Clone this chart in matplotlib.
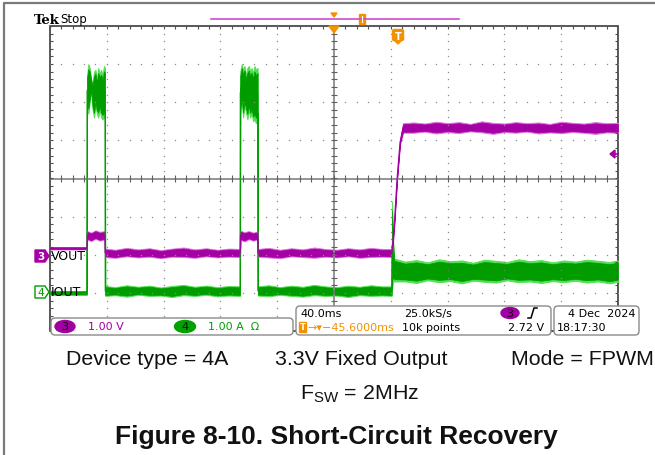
import matplotlib
matplotlib.use('Agg')
import matplotlib.pyplot as plt
from matplotlib.patches import FancyBboxPatch, Polygon, Ellipse, Rectangle
import numpy as np

W, H = 655, 456
MS_PER_DIV = 40.0
V_PER_DIV = 1.0
A_PER_DIV = 1.0
CH3_POS = -2.0   # divisions
CH4_POS = -3.0

# ---- data ----
# VOUT (ch3), volts: time (ms), lower / upper edge of the noisy trace
vout_t = [0, 26.0,
          26.2, 29, 32, 35, 38.6,
          38.8, 46, 54, 62, 70, 78, 86, 94, 102, 110, 118, 126, 133.9,
          134.1, 137, 140, 143, 146.2,
          146.4, 154, 162, 170, 178, 186, 194, 202, 210, 218, 226, 234, 240.8,
          242.6, 244.4, 246.5, 248.6,
          256, 264, 272, 280, 288, 296, 304, 312, 320, 328, 336, 344, 352, 360,
          368, 376, 384, 392, 400]
vout_lo = [0.14, 0.14,
           0.40, 0.36, 0.42, 0.37, 0.40,
           -0.06, -0.08, -0.04, -0.07, -0.05, -0.09, -0.05, -0.06, -0.08, -0.04, -0.07, -0.05, -0.06,
           0.39, 0.35, 0.41, 0.37, 0.40,
           -0.05, -0.07, -0.09, -0.04, -0.06, -0.08, -0.05, -0.07, -0.04, -0.08, -0.06, -0.05, -0.06,
           0.85, 1.95, 2.90, 3.20,
           3.20, 3.23, 3.18, 3.22, 3.19, 3.24, 3.21, 3.17, 3.22, 3.20, 3.23, 3.18, 3.21, 3.19,
           3.22, 3.20, 3.17, 3.21, 3.20]
vout_hi = [0.20, 0.20,
           0.62, 0.58, 0.64, 0.60, 0.62,
           0.16, 0.13, 0.18, 0.14, 0.17, 0.12, 0.16, 0.19, 0.14, 0.17, 0.13, 0.16, 0.15,
           0.63, 0.59, 0.62, 0.58, 0.61,
           0.15, 0.18, 0.13, 0.17, 0.14, 0.19, 0.15, 0.13, 0.17, 0.14, 0.18, 0.15, 0.15,
           0.95, 2.05, 3.00, 3.45,
           3.47, 3.44, 3.49, 3.45, 3.48, 3.43, 3.50, 3.46, 3.44, 3.48, 3.45, 3.47, 3.43, 3.49,
           3.46, 3.44, 3.48, 3.45, 3.46]

# IOUT (ch4), amps
iout_t = [0, 25.9,
          26.1, 27, 28, 29, 30, 31, 32, 33, 34, 35, 36, 37, 38, 38.7,
          38.9, 46, 54, 62, 70, 78, 86, 94, 102, 110, 118, 126, 133.8,
          134.0, 135, 136, 137, 138, 139, 140, 141, 142, 143, 144, 145, 146.2,
          146.4, 154, 162, 170, 178, 186, 194, 202, 210, 218, 226, 234, 240.6,
          240.9, 241.6, 242.5,
          250, 258, 266, 274, 282, 290, 298, 306, 314, 322, 330, 338, 346, 354,
          362, 370, 378, 386, 394, 400]
iout_lo = [-0.05, -0.05,
           4.90, 4.70, 5.00, 5.30, 4.80, 4.60, 4.90, 4.70, 4.60, 4.80, 4.60, 4.55, 4.60, 4.65,
           -0.08, -0.06, -0.10, -0.05, -0.08, -0.07, -0.11, -0.06, -0.08, -0.05, -0.09, -0.07, -0.08,
           4.70, 5.00, 4.60, 4.90, 4.75, 4.55, 4.80, 4.60, 4.70, 4.50, 4.55, 4.45, 4.60,
           -0.07, -0.09, -0.05, -0.08, -0.10, -0.06, -0.08, -0.07, -0.11, -0.06, -0.08, -0.07, -0.08,
           0.10, 0.30, 0.30,
           0.30, 0.26, 0.33, 0.28, 0.31, 0.25, 0.32, 0.29, 0.27, 0.33, 0.28, 0.30, 0.26, 0.31,
           0.28, 0.32, 0.27, 0.30, 0.25, 0.29]
iout_hi = [0.05, 0.05,
           5.70, 6.00, 5.90, 5.60, 5.50, 5.80, 5.85, 5.60, 5.90, 5.75, 5.85, 5.70, 5.95, 5.90,
           0.18, 0.15, 0.20, 0.16, 0.19, 0.14, 0.18, 0.21, 0.16, 0.19, 0.15, 0.18, 0.17,
           5.80, 6.00, 5.85, 5.95, 5.70, 5.90, 5.95, 5.80, 5.90, 5.75, 5.95, 5.85, 5.90,
           0.17, 0.20, 0.15, 0.19, 0.16, 0.21, 0.17, 0.15, 0.19, 0.16, 0.20, 0.17, 0.17,
           2.40, 1.40, 0.90,
           0.82, 0.86, 0.80, 0.88, 0.83, 0.85, 0.79, 0.87, 0.84, 0.81, 0.88, 0.83, 0.86, 0.80,
           0.85, 0.82, 0.87, 0.84, 0.81, 0.85]

V_DARK, V_LIGHT = '#a400a4', '#dc72dc'
I_DARK, I_LIGHT = '#009c00', '#52e052'
ORANGE = '#f39200'
GRID = '#8c8c8c'

fig = plt.figure(figsize=(W / 100, H / 100), dpi=100)

# graticule
GX0, GX1, GY0, GY1 = 50, 618, 27, 332
ax = fig.add_axes([GX0 / W, 1 - GY1 / H, (GX1 - GX0) / W, (GY1 - GY0) / H])
ax.set_xlim(0, 10)
ax.set_ylim(-4, 4)
ax.axis('off')

xs = np.arange(0, 10.001, 0.2)
ys = np.arange(-4, 4.001, 0.2)
for gx in range(1, 10):
    if gx != 5:
        ax.plot([gx] * len(ys), ys, ls='none', marker='s', ms=0.9, mew=0, color=GRID)
for gy in range(-3, 4):
    if gy != 0:
        ax.plot(xs, [gy] * len(xs), ls='none', marker='s', ms=0.9, mew=0, color=GRID)
ax.axvline(5, color=GRID, lw=1.3)
ax.axhline(0, color=GRID, lw=1.3)
ax.vlines(xs, -0.08, 0.08, color='#606060', lw=0.8)
ax.hlines(ys, 4.95, 5.05, color='#606060', lw=0.8)
ax.vlines(xs, 3.92, 4, color='#505050', lw=0.8)
ax.vlines(xs, -4, -3.92, color='#505050', lw=0.8)
ax.hlines(ys, 0, 0.05, color='#505050', lw=0.8)
ax.hlines(ys, 9.95, 10, color='#505050', lw=0.8)
ax.add_patch(Rectangle((0, -4), 10, 8, fill=False, ec='#3c3c3c', lw=1.2, clip_on=False))


def trace(t, lo, hi, pos, scale, dark, light, core=0.4):
    x = np.asarray(t) / MS_PER_DIV
    lo = np.asarray(lo) / scale + pos
    hi = np.asarray(hi) / scale + pos
    mid = (lo + hi) / 2
    ax.fill_between(x, lo, hi, color=light, lw=0.7, ec=light)
    ax.fill_between(x, mid - core * (hi - lo), mid + core * (hi - lo), color=dark, lw=0.5, ec=dark)
    ax.plot(x, mid, color=dark, lw=0.8)


trace(iout_t, iout_lo, iout_hi, CH4_POS, A_PER_DIV, I_DARK, I_LIGHT)
trace(vout_t, vout_lo, vout_hi, CH3_POS, V_PER_DIV, V_DARK, V_LIGHT)

# overlay in pixel coordinates
ov = fig.add_axes([0, 0, 1, 1], zorder=5)
ov.set_xlim(0, W)
ov.set_ylim(H, 0)
ov.axis('off')
ov.patch.set_alpha(0)

# page frame
ov.plot([4, 4, W], [H, 4, 4], color='#7a7a7a', lw=1.6)

mono = dict(family='DejaVu Sans', fontsize=8, va='center')

# top status line
ov.text(34, 20, 'Tek', family='DejaVu Serif', fontweight='bold', fontsize=9.5, va='center')
ov.text(60, 20, 'Stop', family='DejaVu Sans', fontsize=8.5, va='center')
ov.plot([211, 459], [20, 20], color='#d04cd0', lw=1.2)
ov.add_patch(Polygon([(331, 14), (337, 14), (334, 18)], color=ORANGE))
ov.add_patch(Rectangle((359, 15), 6, 10, color=ORANGE))
ov.plot([362, 362], [17, 23], color='white', lw=0.8)
ov.add_patch(Polygon([(329, 27), (339, 27), (334, 34)], color=ORANGE))
ov.add_patch(FancyBboxPatch((394, 32), 8, 8, boxstyle='round,pad=1.5', color=ORANGE))
ov.add_patch(Polygon([(394, 41), (402, 41), (398, 45)], color=ORANGE))
ov.text(398, 36.5, 'T', color='white', fontsize=7, fontweight='bold', ha='center', va='center')

# trigger level arrow
ov.add_patch(Polygon([(610, 155), (615, 151), (615, 159)], color=V_DARK))
ov.plot([614, 618], [155, 155], color=V_DARK, lw=1.2)

# channel tags
ov.add_patch(Polygon([(35, 251), (45, 251), (49, 257), (45, 263), (35, 263)], fc=V_DARK, ec=V_DARK, lw=1))
ov.text(40.5, 257.5, '3', color='white', fontsize=7.5, fontweight='bold', ha='center', va='center')
ov.text(51, 257, 'VOUT', color='black', fontsize=9, va='center')
ov.add_patch(Polygon([(35, 287), (45, 287), (49, 293), (45, 299), (35, 299)], fc='white', ec=I_DARK, lw=1))
ov.text(40.5, 293.5, '4', color=I_DARK, fontsize=7.5, ha='center', va='center')
ov.text(51, 293, 'IOUT', color='black', fontsize=9, va='center')


def box(x0, y0, x1, y1, r=4):
    ov.add_patch(FancyBboxPatch((x0 + r, y0 + r), x1 - x0 - 2 * r, y1 - y0 - 2 * r,
                                boxstyle=f'round,pad={r}', fc='white', ec='#8a8a8a', lw=1.0))


box(51, 319, 293, 336)
box(296, 307, 551, 336)
box(554, 307, 639, 336)

# channel scale box
ov.add_patch(Ellipse((65, 327.5), 20, 12, color='#a000a0'))
ov.text(65, 327.5, '3', color='#1a001a', fontsize=8, ha='center', va='center')
ov.text(88, 327.5, '1.00 V', color='#a000a0', **mono)
ov.add_patch(Ellipse((185, 327.5), 21, 12, color='#00a000'))
ov.text(185, 327.5, '4', color='#001a00', fontsize=8, ha='center', va='center')
ov.text(208, 327.5, '1.00 A  Ω', color='#00a000', **mono)

# timebase box
ov.text(300, 314, '40.0ms', color='black', **mono)
ov.text(404, 314, '25.0kS/s', color='black', **mono)
ov.add_patch(Ellipse((510, 314), 18, 11, color='#a000a0'))
ov.text(510, 314, '3', color='#1a001a', fontsize=8, ha='center', va='center')
ov.plot([528, 531, 534, 537], [319, 319, 309, 309], color='black', lw=1.1)
ov.add_patch(Rectangle((299, 323), 7, 10, color=ORANGE))
ov.text(302.5, 328, 'T', color='white', fontsize=6, fontweight='bold', ha='center', va='center')
ov.text(307, 328, '→▾−45.6000ms', color=ORANGE, **mono)
ov.text(402, 328, '10k points', color='black', **mono)
ov.text(544, 328, '2.72 V', color='black', ha='right', family='DejaVu Sans', fontsize=8, va='center')

# date box
ov.text(636, 314, '4 Dec  2024', color='black', ha='right', family='DejaVu Sans', fontsize=8, va='center')
ov.text(557, 328, '18:17:30', color='black', **mono)

# conditions and caption
cap = dict(family='Liberation Sans', fontsize=15.4, ha='center', va='center', color='#111111')
ov.text(147, 360, 'Device type = 4A', **cap)
ov.text(361, 360, '3.3V Fixed Output', **cap)
ov.text(582, 360, 'Mode = FPWM', **cap)
ov.text(360, 394, r'F$_{\mathregular{SW}}$ = 2MHz', **cap)
ov.text(336, 437, 'Figure 8-10. Short-Circuit Recovery', family='Liberation Sans',
        fontweight='bold', fontsize=19, ha='center', va='center', color='#111111')

fig.savefig('out.png', dpi=100)
